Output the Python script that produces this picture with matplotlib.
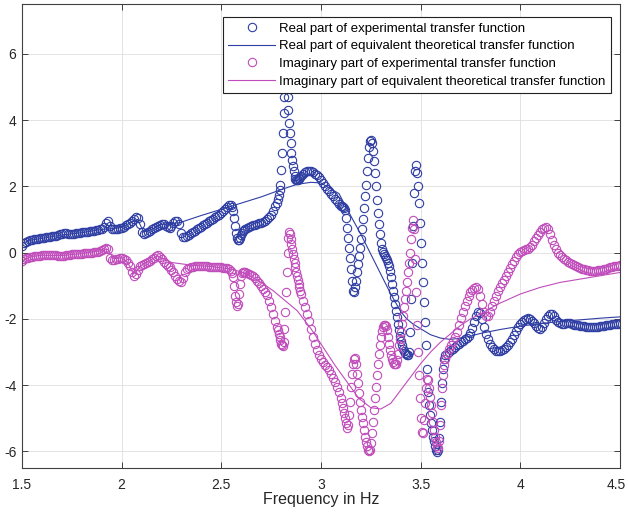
import numpy as np
import matplotlib
matplotlib.use("Agg")
from matplotlib import pyplot as plt
from matplotlib.transforms import ScaledTranslation

plt.rcParams['font.family'] = ['Liberation Sans', 'DejaVu Sans']
plt.rcParams['axes.unicode_minus'] = False

# ---- measured points (frequency, real part, imaginary part) ----
# smooth low-frequency part
freq_a = [1.50, 1.51, 1.52, 1.53, 1.54, 1.55, 1.56, 1.57, 1.58, 1.59,
          1.60, 1.61, 1.62, 1.63, 1.64, 1.65, 1.66, 1.67, 1.68, 1.69,
          1.70, 1.71, 1.72, 1.73, 1.74, 1.75, 1.76, 1.77, 1.78, 1.79,
          1.80, 1.81, 1.82, 1.83, 1.84, 1.85, 1.86, 1.87, 1.88, 1.89,
          1.90, 1.91, 1.92, 1.93, 1.94, 1.95, 1.96, 1.97, 1.98, 1.99,
          2.00, 2.01, 2.02, 2.03, 2.04, 2.05, 2.06, 2.07, 2.08, 2.09,
          2.10, 2.11, 2.12, 2.13, 2.14, 2.15, 2.16, 2.17, 2.18, 2.19,
          2.20, 2.21, 2.22, 2.23, 2.24, 2.25, 2.26, 2.27, 2.28, 2.29,
          2.30, 2.31, 2.32, 2.33, 2.34, 2.35, 2.36, 2.37, 2.38, 2.39,
          2.40, 2.41, 2.42, 2.43, 2.44, 2.45, 2.46, 2.47, 2.48, 2.49,
          2.50, 2.51, 2.52, 2.53, 2.54, 2.55]
re_a = [0.20, 0.28, 0.33, 0.36, 0.38, 0.39, 0.40, 0.41, 0.42, 0.43,
        0.44, 0.45, 0.46, 0.47, 0.48, 0.49, 0.50, 0.51, 0.53, 0.55,
        0.57, 0.58, 0.58, 0.57, 0.56, 0.56, 0.57, 0.58, 0.59, 0.60,
        0.61, 0.62, 0.63, 0.63, 0.64, 0.65, 0.66, 0.67, 0.68, 0.70,
        0.72, 0.78, 0.90, 0.95, 0.80, 0.70, 0.70, 0.71, 0.72, 0.73,
        0.75, 0.78, 0.82, 0.86, 0.90, 0.95, 1.00, 1.06, 1.05, 0.85,
        0.62, 0.56, 0.58, 0.62, 0.66, 0.70, 0.74, 0.78, 0.81, 0.84,
        0.86, 0.85, 0.80, 0.76, 0.75, 0.80, 0.88, 0.95, 0.96, 0.85,
        0.60, 0.47, 0.47, 0.50, 0.54, 0.58, 0.62, 0.66, 0.70, 0.74,
        0.78, 0.82, 0.86, 0.90, 0.94, 0.98, 1.02, 1.06, 1.10, 1.14,
        1.19, 1.24, 1.30, 1.37, 1.43, 1.45]
im_a = [-0.25, -0.20, -0.17, -0.15, -0.13, -0.12, -0.11, -0.10, -0.09, -0.09,
        -0.08, -0.08, -0.08, -0.08, -0.08, -0.08, -0.08, -0.08, -0.09, -0.10,
        -0.10, -0.09, -0.08, -0.07, -0.06, -0.05, -0.05, -0.04, -0.04, -0.03,
        -0.03, -0.02, -0.02, -0.01, 0.00, 0.00, 0.01, 0.02, 0.03, 0.05,
        0.07, 0.10, 0.15, 0.12, -0.15, -0.22, -0.22, -0.20, -0.18, -0.17,
        -0.16, -0.18, -0.22, -0.30, -0.42, -0.58, -0.70, -0.66, -0.52, -0.42,
        -0.38, -0.35, -0.32, -0.28, -0.24, -0.20, -0.15, -0.10, -0.08, -0.12,
        -0.20, -0.28, -0.34, -0.40, -0.45, -0.52, -0.60, -0.70, -0.80, -0.87,
        -0.88, -0.78, -0.60, -0.50, -0.46, -0.44, -0.43, -0.42, -0.42, -0.42,
        -0.42, -0.42, -0.42, -0.42, -0.43, -0.43, -0.43, -0.44, -0.44, -0.45,
        -0.45, -0.46, -0.47, -0.48, -0.50, -0.55]

# first dip near 2.58 Hz
freq_b = [2.555, 2.560, 2.565, 2.570, 2.575, 2.580, 2.585, 2.590, 2.595, 2.600,
          2.605, 2.610, 2.615]
re_b = [1.38, 1.25, 1.05, 0.80, 0.58, 0.44, 0.37, 0.38, 0.45, 0.54,
        0.60, 0.64, 0.67]
im_b = [-0.62, -0.75, -1.00, -1.30, -1.50, -1.62, -1.55, -1.25, -0.95, -0.72,
        -0.62, -0.60, -0.60]

freq_c = [2.62, 2.63, 2.64, 2.65, 2.66, 2.67, 2.68, 2.69, 2.70, 2.71,
          2.72, 2.73, 2.74, 2.75, 2.76, 2.77]
re_c = [0.70, 0.74, 0.77, 0.80, 0.82, 0.84, 0.86, 0.88, 0.90, 0.93,
        0.96, 1.00, 1.06, 1.14, 1.25, 1.40]
im_c = [-0.60, -0.62, -0.65, -0.68, -0.72, -0.78, -0.85, -0.93, -1.02, -1.10,
        -1.18, -1.28, -1.45, -1.65, -1.85, -2.05]

# resonance near 2.82 Hz
freq_d = [2.780, 2.784, 2.788, 2.792, 2.796, 2.800, 2.804, 2.808, 2.812, 2.816,
          2.820, 2.824, 2.828, 2.832, 2.836, 2.840, 2.844, 2.848, 2.852, 2.856,
          2.860, 2.864, 2.868, 2.872, 2.876, 2.880, 2.884, 2.888, 2.892, 2.896]
re_d = [1.50, 1.62, 1.75, 1.90, 2.05, 2.50, 3.00, 3.60, 4.20, 4.70,
        5.20, 5.40, 5.20, 4.70, 4.30, 3.90, 3.60, 3.30, 3.00, 2.80,
        2.60, 2.45, 2.30, 2.22, 2.18, 2.18, 2.20, 2.22, 2.25, 2.28]
im_d = [-2.25, -2.35, -2.45, -2.55, -2.65, -2.75, -2.80, -2.82, -2.70, -2.30,
        -1.80, -1.20, -0.60, 0.00, 0.45, 0.62, 0.55, 0.40, 0.25, 0.10,
        -0.05, -0.20, -0.32, -0.45, -0.58, -0.70, -0.82, -0.95, -1.05, -1.15]

freq_e = [2.90, 2.91, 2.92, 2.93, 2.94, 2.95, 2.96, 2.97, 2.98, 2.99,
          3.00, 3.01, 3.02, 3.03, 3.04, 3.05, 3.06, 3.07, 3.08, 3.09]
re_e = [2.32, 2.38, 2.42, 2.45, 2.46, 2.45, 2.42, 2.38, 2.33, 2.27,
        2.20, 2.10, 2.00, 1.92, 1.85, 1.78, 1.70, 1.62, 1.55, 1.48]
im_e = [-1.25, -1.45, -1.65, -1.85, -2.05, -2.30, -2.55, -2.75, -2.95, -3.10,
        -3.22, -3.30, -3.38, -3.45, -3.55, -3.65, -3.78, -3.92, -4.05, -4.20]

# busy region 3.1 - 3.62 Hz
freq_f = [3.100, 3.105, 3.110, 3.115, 3.120, 3.125, 3.130, 3.135, 3.140, 3.145,
          3.150, 3.155, 3.160, 3.165, 3.170, 3.175, 3.180, 3.185, 3.190, 3.195,
          3.200, 3.205, 3.210, 3.215, 3.220, 3.225, 3.230, 3.235, 3.240, 3.245,
          3.250, 3.255, 3.260, 3.265, 3.270, 3.275, 3.280, 3.285, 3.290, 3.295,
          3.300, 3.305, 3.310, 3.315, 3.320, 3.325, 3.330, 3.335, 3.340, 3.345,
          3.350, 3.355, 3.360, 3.365, 3.370, 3.375, 3.380, 3.385, 3.390, 3.395,
          3.400, 3.405, 3.410, 3.415, 3.420, 3.425, 3.430, 3.435, 3.440, 3.445,
          3.450, 3.455, 3.460, 3.465, 3.470, 3.475, 3.480, 3.485, 3.490, 3.495,
          3.500, 3.505, 3.510, 3.515, 3.520, 3.525, 3.530, 3.535, 3.540, 3.545,
          3.550, 3.555, 3.560, 3.565, 3.570, 3.575, 3.580, 3.585, 3.590, 3.595,
          3.600, 3.605, 3.610, 3.615, 3.620]
re_f = [1.42, 1.40, 1.37, 1.33, 1.28, 1.05, 0.75, 0.45, 0.15, -0.15,
        -0.50, -0.85, -1.15, -1.20, -1.05, -0.85, -0.60, -0.35, -0.10, 0.15,
        0.40, 0.70, 1.00, 1.35, 1.70, 2.05, 2.45, 2.85, 3.20, 3.38,
        3.40, 3.30, 3.05, 2.75, 2.40, 2.00, 1.60, 1.20, 0.85, 0.55,
        0.30, 0.12, 0.02, -0.05, -0.10, -0.15, -0.22, -0.30, -0.40, -0.55,
        -0.75, -0.95, -1.15, -1.35, -1.55, -1.75, -1.95, -2.15, -2.35, -2.52,
        -2.68, -2.80, -2.90, -2.98, -3.03, -3.06, -3.08, -3.08, -3.00, -2.40,
        -1.40, -0.30, 0.80, 1.80, 2.45, 2.65, 2.40, 2.00, 1.50, 0.90,
        0.30, -0.30, -0.90, -1.50, -2.10, -2.80, -3.50, -4.20, -4.60, -4.90,
        -5.15, -5.35, -5.55, -5.70, -5.85, -5.95, -6.02, -5.95, -5.60, -5.10,
        -4.50, -3.95, -3.50, -3.20, -3.08]
im_f = [-4.40, -4.55, -4.70, -4.85, -5.00, -5.15, -5.28, -5.20, -4.90, -4.50,
        -4.05, -3.65, -3.35, -3.20, -3.18, -3.35, -3.65, -3.95, -4.25, -4.50,
        -4.75, -4.95, -5.15, -5.35, -5.55, -5.72, -5.85, -5.95, -6.00, -5.95,
        -5.75, -5.45, -5.10, -4.75, -4.40, -4.05, -3.70, -3.35, -3.05, -2.80,
        -2.55, -2.38, -2.25, -2.20, -2.18, -2.22, -2.35, -2.55, -2.75, -2.95,
        -3.10, -3.22, -3.30, -3.35, -3.36, -3.36, -3.25, -3.05, -2.80, -2.60,
        -2.40, -2.15, -1.90, -1.65, -1.40, -1.15, -0.90, -0.60, -0.30, 0.00,
        0.40, 0.75, 0.98, 0.70, -0.20, -1.20, -2.20, -3.00, -3.70, -4.40,
        -5.00, -5.40, -5.45, -5.05, -4.55, -4.10, -3.82, -3.85, -4.10, -4.35,
        -4.60, -4.85, -5.10, -5.35, -5.55, -5.72, -5.85, -5.90, -5.70, -5.20,
        -4.60, -4.10, -3.70, -3.40, -3.20]

# high-frequency tail
freq_g = [3.63, 3.64, 3.65, 3.66, 3.67, 3.68, 3.69, 3.70, 3.71, 3.72,
          3.73, 3.74, 3.75, 3.76, 3.77, 3.78, 3.79, 3.80, 3.81, 3.82,
          3.83, 3.84, 3.85, 3.86, 3.87, 3.88, 3.89, 3.90, 3.91, 3.92,
          3.93, 3.94, 3.95, 3.96, 3.97, 3.98, 3.99, 4.00, 4.01, 4.02,
          4.03, 4.04, 4.05, 4.06, 4.07, 4.08, 4.09, 4.10, 4.11, 4.12,
          4.13, 4.14, 4.15, 4.16, 4.17, 4.18, 4.19, 4.20, 4.21, 4.22,
          4.23, 4.24, 4.25, 4.26, 4.27, 4.28, 4.29, 4.30, 4.31, 4.32,
          4.33, 4.34, 4.35, 4.36, 4.37, 4.38, 4.39, 4.40, 4.41, 4.42,
          4.43, 4.44, 4.45, 4.46, 4.47, 4.48, 4.49, 4.50]
re_g = [-3.05, -3.00, -2.95, -2.90, -2.85, -2.80, -2.75, -2.70, -2.66, -2.62,
        -2.58, -2.52, -2.42, -2.28, -2.10, -1.92, -1.80, -1.82, -2.00, -2.25,
        -2.45, -2.62, -2.75, -2.85, -2.92, -2.96, -2.98, -2.97, -2.94, -2.90,
        -2.85, -2.78, -2.70, -2.60, -2.48, -2.36, -2.25, -2.15, -2.08, -2.03,
        -2.00, -1.98, -2.00, -2.06, -2.14, -2.22, -2.28, -2.30, -2.25, -2.12,
        -2.00, -1.90, -1.85, -1.85, -1.92, -2.02, -2.10, -2.14, -2.15, -2.15,
        -2.14, -2.13, -2.14, -2.16, -2.18, -2.19, -2.20, -2.21, -2.22, -2.23,
        -2.24, -2.25, -2.26, -2.26, -2.26, -2.25, -2.24, -2.23, -2.22, -2.21,
        -2.20, -2.19, -2.18, -2.17, -2.16, -2.15, -2.15, -2.14]
im_g = [-3.05, -2.92, -2.80, -2.68, -2.55, -2.40, -2.20, -1.98, -1.78, -1.60,
        -1.45, -1.32, -1.20, -1.12, -1.07, -1.05, -1.10, -1.30, -1.55, -1.78,
        -1.90, -1.92, -1.80, -1.62, -1.45, -1.30, -1.17, -1.05, -0.93, -0.82,
        -0.70, -0.58, -0.46, -0.35, -0.24, -0.14, -0.05, 0.02, 0.06, 0.08,
        0.10, 0.12, 0.16, 0.24, 0.34, 0.44, 0.54, 0.63, 0.70, 0.75,
        0.76, 0.70, 0.55, 0.38, 0.22, 0.10, 0.00, -0.07, -0.13, -0.18,
        -0.23, -0.27, -0.31, -0.35, -0.38, -0.41, -0.44, -0.47, -0.49, -0.51,
        -0.53, -0.54, -0.55, -0.55, -0.55, -0.55, -0.54, -0.53, -0.52, -0.50,
        -0.49, -0.47, -0.45, -0.44, -0.42, -0.41, -0.40, -0.39]

# ---- equivalent theoretical transfer function ----
freq_th_re = [1.50, 1.55, 1.60, 1.70, 1.80, 1.90, 1.95, 2.00, 2.05, 2.08,
              2.11, 2.15, 2.20, 2.29, 2.40, 2.54, 2.70, 2.80, 2.88, 2.95,
              3.00, 3.05, 3.09, 3.15, 3.20, 3.25, 3.30, 3.35, 3.40, 3.43,
              3.46, 3.50, 3.55, 3.60, 3.65, 3.70, 3.75, 3.80, 3.90, 4.00,
              4.10, 4.20, 4.30, 4.40, 4.50]
re_th = [0.28, 0.38, 0.43, 0.53, 0.60, 0.70, 0.72, 0.76, 0.92, 1.00,
         0.62, 0.70, 0.85, 0.90, 1.12, 1.38, 1.68, 1.90, 2.06, 2.12,
         2.10, 1.92, 1.78, 1.10, 0.55, -0.05, -0.65, -1.25, -1.78, -2.00,
         -2.15, -2.30, -2.48, -2.58, -2.62, -2.58, -2.52, -2.44, -2.32, -2.22,
         -2.14, -2.08, -2.03, -1.98, -1.94]
freq_th_im = [1.50, 1.55, 1.60, 1.70, 1.80, 1.90, 1.93, 1.96, 2.00, 2.03,
              2.06, 2.10, 2.18, 2.25, 2.35, 2.45, 2.55, 2.62, 2.70, 2.76,
              2.82, 2.88, 2.95, 3.01, 3.07, 3.13, 3.19, 3.25, 3.30, 3.35,
              3.40, 3.45, 3.50, 3.55, 3.60, 3.65, 3.70, 3.75, 3.80, 3.85,
              3.90, 4.00, 4.10, 4.20, 4.30, 4.40, 4.50]
im_th = [-0.25, -0.12, -0.08, -0.09, -0.03, 0.06, 0.10, -0.18, -0.16, -0.30,
         -0.65, -0.38, -0.10, -0.30, -0.38, -0.42, -0.50, -0.62, -0.90, -1.15,
         -1.45, -1.75, -2.30, -2.85, -3.40, -3.90, -4.40, -4.68, -4.72, -4.55,
         -4.15, -3.75, -3.35, -3.00, -2.70, -2.45, -2.20, -2.00, -1.85, -1.68,
         -1.52, -1.25, -1.05, -0.90, -0.80, -0.70, -0.60]

labels = ["Real part of experimental transfer function",
          "Real part of equivalent theoretical transfer function",
          "Imaginary part of experimental transfer function",
          "Imaginary part of equivalent theoretical transfer function"]
x_ticks = [1.5, 2, 2.5, 3, 3.5, 4, 4.5]
x_tick_labels = ["1.5", "2", "2.5", "3", "3.5", "4", "4.5"]
y_ticks = [-6, -4, -2, 0, 2, 4, 6]

freq = freq_a + freq_b + freq_c + freq_d + freq_e + freq_f + freq_g
re_exp = re_a + re_b + re_c + re_d + re_e + re_f + re_g
im_exp = im_a + im_b + im_c + im_d + im_e + im_f + im_g

c_re = "#2f3ea3"
c_im = "#c04dbb"

fig = plt.figure(figsize=(6.28, 5.21), dpi=100)
ax = fig.add_axes([22 / 628, 1 - 468 / 521, 598 / 628, 464 / 521])

ax.plot(freq, re_exp, "o", mfc="none", mec=c_re, ms=6.0, mew=0.8, label=labels[0])
ax.plot(freq_th_re, re_th, "-", color=c_re, lw=0.8, label=labels[1])
ax.plot(freq, im_exp, "o", mfc="none", mec=c_im, ms=6.0, mew=0.8, label=labels[2])
ax.plot(freq_th_im, im_th, "-", color=c_im, lw=0.8, label=labels[3])

ax.set_xlim(1.5, 4.5)
ax.set_ylim(-6.5, 7.5)
ax.set_xticks(x_ticks)
ax.set_xticklabels(x_tick_labels)
ax.set_yticks(y_ticks)
ax.grid(True, color="#dedede", lw=0.6)
ax.set_axisbelow(True)
ax.tick_params(direction="in", top=True, right=True, length=4, width=0.6,
               labelsize=10, colors="#262626")
ax.tick_params(axis="x", pad=7)
ax.tick_params(axis="y", pad=4)
for s in ax.spines.values():
    s.set_color("#404040")
    s.set_linewidth(0.8)
ax.set_xlabel("Frequency in Hz", fontsize=11.5, color="#262626", labelpad=0)

# keep the last x label inside the figure
last = ax.get_xticklabels()[-1]
last.set_transform(last.get_transform() + ScaledTranslation(-4 / 100, 0, fig.dpi_scale_trans))

leg = ax.legend(loc="upper right", bbox_to_anchor=(0.985, 0.972), borderaxespad=0,
                fontsize=9.5, fancybox=False, framealpha=1, edgecolor="#222222",
                handlelength=3.6, handletextpad=0.3, labelspacing=0.42,
                borderpad=0.4, numpoints=1)
leg.get_frame().set_linewidth(0.8)

plt.savefig("out.png", dpi=100)
